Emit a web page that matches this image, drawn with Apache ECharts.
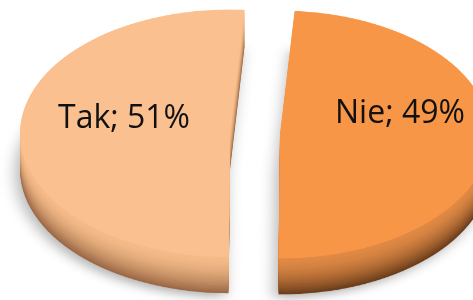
<!DOCTYPE html>
<html>
<head>
<meta charset="utf-8">
<script src="https://cdn.jsdelivr.net/npm/echarts@6/dist/echarts.min.js"></script>
<style>
  html, body { margin: 0; padding: 0; background: #fff; }
  #wrap { position: relative; width: 473px; height: 300px; overflow: hidden; }
  #body { position: absolute; left: 0; top: 0; width: 473px; transform-origin: 0 0; }
  #labels { position: absolute; left: 0; top: 0; width: 473px; height: 300px; }
</style>
</head>
<body>
<div id="wrap">
  <div id="body"></div>
  <div id="labels"></div>
</div>
<script>
// dane wykresu
const categories = ['Tak', 'Nie'];
const values = [51, 49];
const topColors = ['#FAC090', '#F79646'];
const rimColors = ['#F5BB88', '#E08A45'];
const baseColors = ['#9C6A47', '#6E3F1C'];

// geometria "3D"
const squash = 0.59;          // ry / rx
const rx = 210;
const cx = 255;
const cyTop = 134;            // środek górnej powierzchni na ekranie
const thickness = 36;         // grubość boku na ekranie
const explode = 25;
const layers = 16;

const bodyEl = document.getElementById('body');
bodyEl.style.height = Math.round(300 / squash) + 'px';
bodyEl.style.transform = 'scaleY(' + squash + ')';

const pieData = categories.map((name, i) => ({ name, value: values[i], selected: true }));

function mix(a, b, t) {
  const pa = [1, 3, 5].map(k => parseInt(a.substr(k, 2), 16));
  const pb = [1, 3, 5].map(k => parseInt(b.substr(k, 2), 16));
  return 'rgb(' + pa.map((v, k) => Math.round(v + (pb[k] - v) * t)).join(',') + ')';
}

const base = {
  type: 'pie',
  radius: rx,
  startAngle: 86,
  clockwise: false,
  selectedMode: 'multiple',
  selectedOffset: explode,
  silent: true,
  animation: false,
  label: { show: false },
  labelLine: { show: false },
  emphasis: { disabled: true }
};

const series = [];
// boki (od dołu do góry)
for (let k = layers; k >= 1; k--) {
  const t = k / layers;
  series.push(Object.assign({}, base, {
    z: layers - k,
    center: [cx, (cyTop + thickness * t) / squash],
    data: pieData.map((d, i) => Object.assign({}, d, {
      itemStyle: Object.assign({
        color: mix(rimColors[i], baseColors[i], Math.pow(t, 1.8))
      }, k === layers ? { shadowBlur: 16, shadowColor: 'rgba(0,0,0,0.3)', shadowOffsetX: -4, shadowOffsetY: 6 } : {})
    }))
  }));
}
// górna powierzchnia
series.push(Object.assign({}, base, {
  z: layers + 1,
  center: [cx, cyTop / squash],
  data: pieData.map((d, i) => Object.assign({}, d, { itemStyle: { color: topColors[i] } }))
}));

const bodyChart = echarts.init(bodyEl, null, { renderer: 'canvas' });
bodyChart.setOption({ backgroundColor: '#fff', series });

// etykiety (bez spłaszczenia)
const labelChart = echarts.init(document.getElementById('labels'), null, { renderer: 'canvas' });
labelChart.setOption({
  series: [Object.assign({}, base, {
    radius: 220,
    startAngle: 89.2,
    center: [262, 116],
    data: pieData.map(d => Object.assign({}, d, { itemStyle: { color: 'rgba(0,0,0,0)' } })),
    label: {
      show: true,
      position: 'inside',
      formatter: '{b}; {d}%',
      fontFamily: 'Open Sans',
      fontSize: 32,
      color: '#111'
    }
  })]
});
</script>
</body>
</html>
